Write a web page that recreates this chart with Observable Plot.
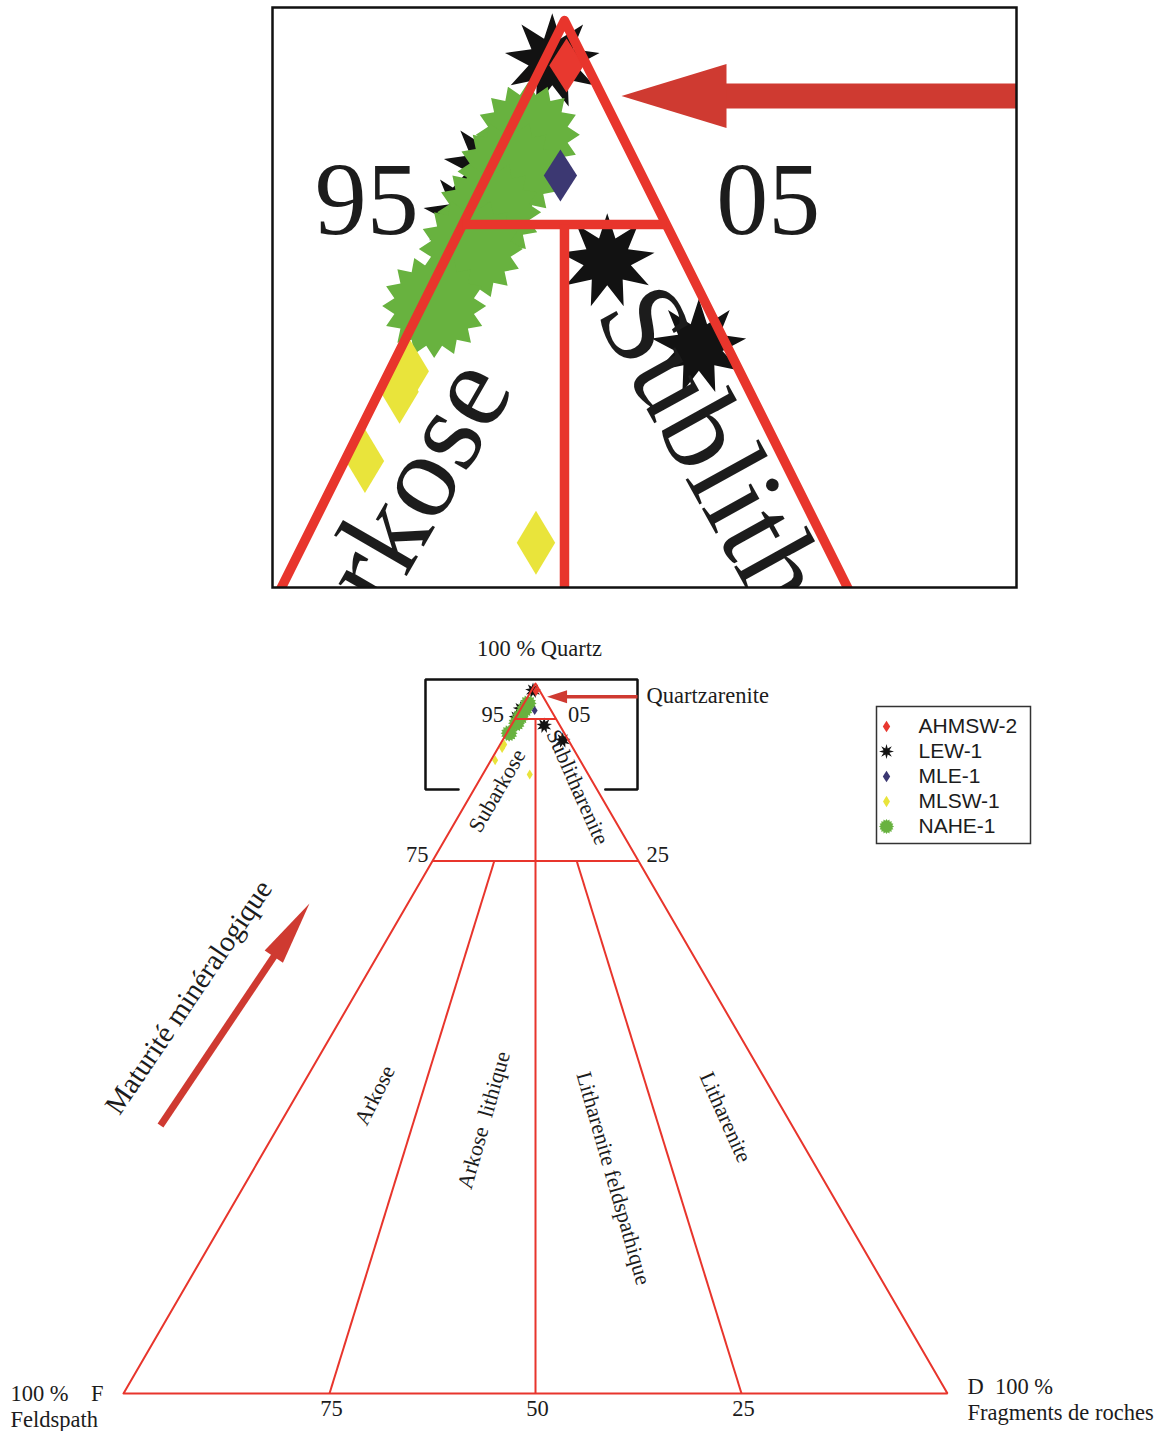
<!DOCTYPE html>
<html lang="fr">
<head>
<meta charset="utf-8">
<script src="https://cdn.jsdelivr.net/npm/d3@7"></script>
<script src="https://cdn.jsdelivr.net/npm/@observablehq/plot@0.6"></script>
<style>
  html, body { margin: 0; padding: 0; background: #fff; }
  #page { position: relative; width: 1170px; height: 1431px; overflow: hidden; background: #fff; }
  #page > svg { position: absolute; }
</style>
</head>
<body>
<div id="page"></div>
<script>
// ---------------- DATA (ternary percentages: Q = quartz, F = feldspath, R = fragments de roches) ----------------
const samples = ["AHMSW-2", "LEW-1", "MLE-1", "MLSW-1", "NAHE-1"];
const sampleColors = ["#e8382f", "#121212", "#3c3872", "#e9e43b", "#68b23f"];
const drawOrder = ["LEW-1", "NAHE-1", "MLE-1", "MLSW-1", "AHMSW-2"];

const pointSample = ["LEW-1","LEW-1","LEW-1","LEW-1","LEW-1","MLE-1","NAHE-1","NAHE-1","NAHE-1","NAHE-1","NAHE-1","MLSW-1","MLSW-1","MLSW-1","MLSW-1","AHMSW-2"];
const pointQ = [99.0, 96.4, 95.2, 94.1, 92.0, 96.2, 97.2, 96.3, 95.3, 94.4, 93.0, 91.4, 90.9, 89.2, 87.2, 98.9];
const pointF = [0.8, 3.6, 4.7, 1.9, 0.7, 2.0, 2.3, 3.2, 4.2, 5.1, 6.7, 8.1, 8.6, 10.3, 7.1, 0.5];
const pointR = [0.2, 0.0, 0.1, 4.0, 7.3, 1.8, 0.5, 0.5, 0.5, 0.5, 0.3, 0.5, 0.5, 0.5, 5.7, 0.6];

// classification boundaries (Folk): outline and inner segments
const outlineQ = [0, 100, 0, 0, 100];
const outlineF = [100, 0, 0, 100, 0];
const outlineR = [0, 0, 100, 0, 0];
const segQ1 = [95, 75, 95, 75, 75];
const segF1 = [5, 25, 2.5, 17.5, 7.5];
const segR1 = [0, 0, 2.5, 7.5, 17.5];
const segQ2 = [95, 75, 0, 0, 0];
const segF2 = [0, 0, 50, 75, 25];
const segR2 = [5, 25, 50, 25, 75];

// region names
const regionNames = ["Subarkose", "Sublitharenite", "Arkose", "Arkose\u00a0\u00a0lithique", "Litharenite feldspathique", "Litharenite"];
const regionQ = [84.9, 85.4, 42.0, 38.5, 30.3, 38.9];
const regionF = [12.2, 2.2, 48.5, 37.0, 25.4, 7.5];
const regionR = [2.9, 12.4, 9.5, 24.5, 44.3, 53.6];
const regionAngle = [-60, 66, -63, -74, 74, 66];

// tick labels
const sideTickLabels = ["95", "05", "75", "25"];
const sideTickQ = [95, 95, 75, 75];
const sideTickF = [5, 0, 25, 0];
const sideTickR = [0, 5, 0, 25];
const baseTickLabels = ["75", "50", "25"];
const baseTickF = [75, 50, 25];
const baseTickR = [25, 50, 75];

// inset (zoom on the quartz pole) labels
const insetRegionNames = ["Subarkose", "Sublitharenite"];
const insetRegionQ = [91.45, 93.26];
const insetRegionF = [6.31, 1.82];
const insetRegionR = [2.24, 4.92];
const insetRegionAngle = [-60, 61];

// annotation geometry in the (X = R + Q/2, Q) plane
const windowX = [36.65, 62.38];
const windowQ = [85.07, 100.56];
const windowGapX = [40.66, 58.47];
const quartzArrowTail = [62.38, 98.15];
const quartzArrowTip = [51.4, 98.15];
const maturityArrowTail = [4.49, 37.75];
const maturityArrowTip = [22.57, 69.01];
const maturityLabel = [7.9, 55.8];

// ---------------- helpers ----------------
const toXY = (q, f, r) => ({X: r + q / 2, Q: q});
const RED = "#e8352c";
const ARROW_RED = "#cf3a31";
const TEXT = "#1c1c1c";
const SERIF = "Liberation Serif, Times New Roman, serif";
const SANS = "Liberation Sans, Arial, sans-serif";

const colorOf = s => sampleColors[samples.indexOf(s)];

function starSymbol(n, k) {
  return {draw(ctx, size) {
    const r = Math.sqrt(size / Math.PI);
    for (let i = 0; i < 2 * n; i++) {
      const a = Math.PI * i / n - Math.PI / 2;
      const rr = i % 2 ? r * k : r;
      const x = rr * Math.cos(a), y = rr * Math.sin(a);
      if (i) ctx.lineTo(x, y); else ctx.moveTo(x, y);
    }
    ctx.closePath();
  }};
}
function diamondSymbol(aspect) {
  return {draw(ctx, size) {
    const r = Math.sqrt(size / Math.PI);
    ctx.moveTo(0, -r); ctx.lineTo(r * aspect, 0); ctx.lineTo(0, r); ctx.lineTo(-r * aspect, 0); ctx.closePath();
  }};
}
function headSymbol(len, wid) {
  return {draw(ctx) {
    ctx.moveTo(0, 0); ctx.lineTo(wid / 2, len); ctx.lineTo(-wid / 2, len); ctx.closePath();
  }};
}
const symbolsMain = {
  "AHMSW-2": diamondSymbol(0.64), "LEW-1": starSymbol(9, 0.5), "MLE-1": diamondSymbol(0.64),
  "MLSW-1": diamondSymbol(0.6), "NAHE-1": starSymbol(16, 0.78)
};
const symbolsLegend = {...symbolsMain, "LEW-1": starSymbol(8, 0.42)};

const points = pointSample.map((s, i) => ({sample: s, ...toXY(pointQ[i], pointF[i], pointR[i])}));
const outline = outlineQ.map((q, i) => toXY(q, outlineF[i], outlineR[i]));
const segments = segQ1.map((q, i) => {
  const a = toXY(q, segF1[i], segR1[i]), b = toXY(segQ2[i], segF2[i], segR2[i]);
  return {x1: a.X, y1: a.Q, x2: b.X, y2: b.Q};
});
const regions = regionNames.map((n, i) => ({name: n, angle: regionAngle[i], ...toXY(regionQ[i], regionF[i], regionR[i])}));
const insetRegions = insetRegionNames.map((n, i) => ({name: n, angle: insetRegionAngle[i], ...toXY(insetRegionQ[i], insetRegionF[i], insetRegionR[i])}));
const sideTicks = sideTickLabels.map((t, i) => ({t, left: sideTickF[i] > 0, ...toXY(sideTickQ[i], sideTickF[i], sideTickR[i])}));
const baseTicks = baseTickLabels.map((t, i) => ({t, ...toXY(0, baseTickF[i], baseTickR[i])}));
const vF = toXY(0, 100, 0), vR = toXY(0, 0, 100), vQ = toXY(100, 0, 0);

function pointMarks(r, clip) {
  return drawOrder.map(s => Plot.dot(points.filter(p => p.sample === s), {
    x: "X", y: "Q", symbol: symbolsMain[s], r: r[s], fill: colorOf(s), stroke: "none", clip
  }));
}
function gridMarks(w, clip) {
  return [
    Plot.line(outline, {x: "X", y: "Q", stroke: RED, strokeWidth: w, strokeLinejoin: "miter", clip}),
    Plot.link(segments, {x1: "x1", y1: "y1", x2: "x2", y2: "y2", stroke: RED, strokeWidth: w, strokeLinecap: "butt", clip})
  ];
}
function arrowMarks(xs, ys, tail, tip, len, wid, shaft, clip) {
  const x0 = xs(tail[0]), y0 = ys(tail[1]), x1 = xs(tip[0]), y1 = ys(tip[1]);
  const L = Math.hypot(x1 - x0, y1 - y0), ux = (x1 - x0) / L, uy = (y1 - y0) / L;
  const base = [xs.invert(x1 - ux * (len - 1)), ys.invert(y1 - uy * (len - 1))];
  const angle = Math.atan2(ux, -uy) * 180 / Math.PI;
  return [
    Plot.link([0], {x1: () => tail[0], y1: () => tail[1], x2: () => base[0], y2: () => base[1], stroke: ARROW_RED, strokeWidth: shaft, strokeLinecap: "butt", clip}),
    Plot.dot([0], {x: () => tip[0], y: () => tip[1], symbol: headSymbol(len, wid), fill: ARROW_RED, stroke: "none", rotate: angle, clip})
  ];
}
const serif = (size, extra) => ({fontFamily: SERIF, fontSize: size, fill: TEXT, ...extra});

const page = document.getElementById("page");

// ---------------- MAIN DIAGRAM ----------------
const mainXDomain = [-14.927, 127.063], mainYDomain = [-5.352, 196.197];
const mxs = d3.scaleLinear(mainXDomain, [0, 1170]), mys = d3.scaleLinear(mainYDomain, [1431, 0]);
const fs = 22.5;
const tk = (pred) => sideTicks.filter(pred);
const main = Plot.plot({
  width: 1170, height: 1431, margin: 0,
  x: {domain: mainXDomain, axis: null},
  y: {domain: mainYDomain, axis: null},
  style: {overflow: "visible", background: "transparent"},
  marks: [
    ...pointMarks({"AHMSW-2": 5, "LEW-1": 8, "MLE-1": 4.6, "MLSW-1": 5, "NAHE-1": 8.5}, false),
    ...gridMarks(2, false),
    Plot.line([[windowGapX[0], windowQ[0]], [windowX[0], windowQ[0]], [windowX[0], windowQ[1]], [windowX[1], windowQ[1]], [windowX[1], windowQ[0]], [windowGapX[1], windowQ[0]]],
      {x: d => d[0], y: d => d[1], stroke: "#111", strokeWidth: 2.5, strokeLinejoin: "miter"}),
    ...arrowMarks(mxs, mys, quartzArrowTail, quartzArrowTip, 20, 13, 3.5, false),
    ...arrowMarks(mxs, mys, maturityArrowTail, maturityArrowTip, 64, 22, 7, false),
    Plot.text(regions, {x: "X", y: "Q", text: "name", rotate: "angle", ...serif(22)}),
    Plot.text(tk(d => d.left && d.Q > 90), {x: "X", y: "Q", text: "t", ...serif(fs, {textAnchor: "end", dx: -11, dy: -4})}),
    Plot.text(tk(d => !d.left && d.Q > 90), {x: "X", y: "Q", text: "t", ...serif(fs, {textAnchor: "start", dx: 12, dy: -4})}),
    Plot.text(tk(d => d.left && d.Q < 90), {x: "X", y: "Q", text: "t", ...serif(fs, {textAnchor: "end", dx: -4, dy: -6})}),
    Plot.text(tk(d => !d.left && d.Q < 90), {x: "X", y: "Q", text: "t", ...serif(fs, {textAnchor: "start", dx: 8, dy: -6})}),
    Plot.text(baseTicks, {x: "X", y: "Q", text: "t", ...serif(fs, {dx: 2, dy: 15})}),
    Plot.text([vQ], {x: "X", y: "Q", text: () => "100 % Quartz", ...serif(fs, {dx: 4, dy: -35})}),
    Plot.text([vF], {x: "X", y: "Q", text: () => "100 %\u00a0\u00a0\u00a0\u00a0F", ...serif(fs, {textAnchor: "start", dx: -113, dy: 0})}),
    Plot.text([vF], {x: "X", y: "Q", text: () => "Feldspath", ...serif(fs, {textAnchor: "start", dx: -113, dy: 26})}),
    Plot.text([vR], {x: "X", y: "Q", text: () => "D\u00a0\u00a0100 %", ...serif(fs, {textAnchor: "start", dx: 20, dy: -7})}),
    Plot.text([vR], {x: "X", y: "Q", text: () => "Fragments de roches", ...serif(fs, {textAnchor: "start", dx: 20, dy: 19})}),
    Plot.text([quartzArrowTail], {x: d => d[0], y: d => d[1], text: () => "Quartzarenite", ...serif(fs, {textAnchor: "start", dx: 9, dy: -1})}),
    Plot.text([maturityLabel], {x: d => d[0], y: d => d[1], text: () => "Maturité minéralogique", ...serif(29, {rotate: -56})})
  ]
});
main.style.left = "0px"; main.style.top = "0px";
page.appendChild(main);

// ---------------- INSET (magnified quartz pole) ----------------
const insetXDomain = [42.83, 61.10], insetYDomain = [86.10, 100.319];
const ixs = d3.scaleLinear(insetXDomain, [2, 746]), iys = d3.scaleLinear(insetYDomain, [582, 2]);
const inset = Plot.plot({
  width: 748, height: 584, margin: 2,
  x: {domain: insetXDomain, axis: null},
  y: {domain: insetYDomain, axis: null},
  style: {overflow: "hidden", background: "#fff"},
  marks: [
    ...pointMarks({"AHMSW-2": 27, "LEW-1": 48, "MLE-1": 26, "MLSW-1": 32, "NAHE-1": 52}, true),
    ...gridMarks(9.5, true),
    ...arrowMarks(ixs, iys, [quartzArrowTail[0] + 1, quartzArrowTail[1]], quartzArrowTip, 105, 64, 25, true),
    Plot.text(insetRegions.filter(d => d.angle < 0), {x: "X", y: "Q", text: "name", rotate: "angle", clip: true, ...serif(120, {textAnchor: "end"})}),
    Plot.text(insetRegions.filter(d => d.angle > 0), {x: "X", y: "Q", text: "name", rotate: "angle", clip: true, ...serif(120, {textAnchor: "start"})}),
    Plot.text(sideTicks.filter(d => d.left && d.Q > 90), {x: "X", y: "Q", text: "t", ...serif(104, {textAnchor: "end", dx: -44, dy: -24})}),
    Plot.text(sideTicks.filter(d => !d.left && d.Q > 90), {x: "X", y: "Q", text: "t", ...serif(104, {textAnchor: "start", dx: 50, dy: -24})}),
    Plot.frame({stroke: "#111", strokeWidth: 2.5})
  ]
});
inset.style.left = "270px"; inset.style.top = "5px";
page.appendChild(inset);

// ---------------- LEGEND ----------------
const legend = Plot.plot({
  width: 154, height: 137, margin: 0,
  x: {domain: [0, 154], axis: null},
  y: {type: "point", domain: samples, range: [19, 120], padding: 0, axis: null},
  style: {overflow: "visible", background: "#fff"},
  marks: [
    Plot.frame({stroke: "#333", strokeWidth: 1.5}),
    ...samples.map(s => Plot.dot([s], {x: () => 10, y: d => d, symbol: symbolsLegend[s], r: s === "LEW-1" || s === "NAHE-1" ? 7.5 : 5.8, fill: colorOf(s), stroke: "none"})),
    Plot.text(samples, {x: () => 42, y: d => d, text: d => d, textAnchor: "start", fontFamily: SANS, fontSize: 21, fill: TEXT})
  ]
});
legend.style.left = "876px"; legend.style.top = "706px";
page.appendChild(legend);
</script>
</body>
</html>
